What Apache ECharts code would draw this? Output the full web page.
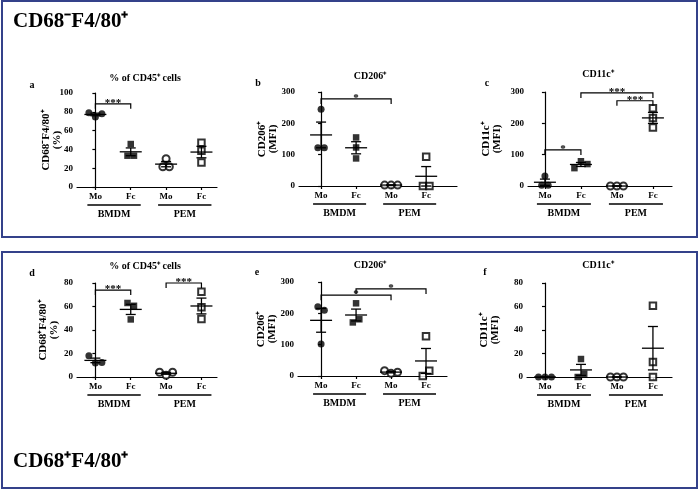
<!DOCTYPE html>
<html>
<head>
<meta charset="utf-8">
<script src="https://cdn.jsdelivr.net/npm/echarts@6/dist/echarts.min.js"></script>
<style>
  html, body { margin: 0; padding: 0; background: #fff; }
  #chart { width: 700px; height: 490px; }
</style>
</head>
<body>
<div id="chart"></div>
<script>
// x categories and group names
const groupLabels = ['Mo', 'Fc', 'Mo', 'Fc'];
const groupPos = [0, 1, 2, 3];
const cellTypes = ['BMDM', 'PEM'];

// a: CD68-F4/80+ % of CD45+ cells
const aMoBMDM = [79, 74.5, 78];
const aFcBMDM = [45.7, 33.3, 33.3];
const aMoPEM = [30, 21.5, 21.5];
const aFcPEM = [47, 38.5, 26];
// b: CD206+ MFI
const bMoBMDM = [245, 122, 122];
const bFcBMDM = [155, 123, 88];
const bMoPEM = [3, 3, 3];
const bFcPEM = [93, 0, 0];
// c: CD11c+ MFI
const cMoBMDM = [32, 2, 2];
const cFcBMDM = [57, 79, 70];
const cMoPEM = [0, 0, 0];
const cFcPEM = [248, 217, 187];
// d: CD68+F4/80+ % of CD45+ cells
const dMoBMDM = [18, 12, 12.4];
const dFcBMDM = [63, 49, 60.6];
const dMoPEM = [4, 1.5, 4];
const dFcPEM = [72.6, 59.3, 49.4];
// e: CD206+ MFI
const eMoBMDM = [221, 210, 102];
const eFcBMDM = [232, 171, 181];
const eMoPEM = [17, 8.5, 11.8];
const eFcPEM = [127, 0, 17];
// f: CD11c+ MFI
const fMoBMDM = [0, 0, 0];
const fFcBMDM = [0, 15.3, 2.8];
const fMoPEM = [0, 0, 0];
const fFcPEM = [60.7, 12.8, 0];

// significance brackets: [from group, to group, height, stars]
const sigA = [[0, 1, 88.5, '***']];
const sigB = [[0, 2, 278, '*']];
const sigC = [[0, 1, 115, '*'], [1, 3, 297, '***'], [2, 3, 272, '***']];
const sigD = [[0, 1, 74, '***'], [2, 3, 80, '***']];
const sigE = [[0, 2, 258, '*'], [1, 3, 278, '*']];
const sigF = [];

const FONT = "'Liberation Serif', 'Times New Roman', serif";
const BORDER = '#34418a';
const SYMBOLS = ['circle', 'rect', 'emptyCircle', 'emptyRect'];
const GRID_H = 94;
const STEP = 6.5;     // px sideways between overlapping dots
const OVERLAP = 7;    // px vertical distance that counts as overlap

const panels = [
  { letter: 'a', title: '% of CD45⁺ cells', yName: 'CD68⁻F4/80⁺\n(%)', nameGap: 14,
    left: 77, top: 93, width: 140, xMin: -0.52, xMax: 3.44, yMax: 100, yStep: 20,
    titleX: 145, titleY: 78, letterX: 32, letterY: 85,
    groups: [aMoBMDM, aFcBMDM, aMoPEM, aFcPEM], sig: sigA },
  { letter: 'b', title: 'CD206⁺', yName: 'CD206⁺\n(MFI)', nameGap: 20,
    left: 299, top: 92, width: 158, xMin: -0.63, xMax: 3.88, yMax: 300, yStep: 100,
    titleX: 370, titleY: 76, letterX: 258, letterY: 83,
    groups: [bMoBMDM, bFcBMDM, bMoPEM, bFcPEM], sig: sigB },
  { letter: 'c', title: 'CD11c⁺', yName: 'CD11c⁺\n(MFI)', nameGap: 25,
    left: 528, top: 92, width: 144, xMin: -0.47, xMax: 3.53, yMax: 300, yStep: 100,
    titleX: 598, titleY: 74, letterX: 487, letterY: 83,
    groups: [cMoBMDM, cFcBMDM, cMoPEM, cFcPEM], sig: sigC },
  { letter: 'd', title: '% of CD45⁺ cells', yName: 'CD68⁺F4/80⁺\n(%)', nameGap: 17,
    left: 77, top: 283, width: 140, xMin: -0.52, xMax: 3.44, yMax: 80, yStep: 20,
    titleX: 145, titleY: 266, letterX: 32, letterY: 273,
    groups: [dMoBMDM, dFcBMDM, dMoPEM, dFcPEM], sig: sigD },
  { letter: 'e', title: 'CD206⁺', yName: 'CD206⁺\n(MFI)', nameGap: 20,
    left: 298, top: 282, width: 149, xMin: -0.66, xMax: 3.6, yMax: 300, yStep: 100,
    titleX: 370, titleY: 265, letterX: 257, letterY: 272,
    groups: [eMoBMDM, eFcBMDM, eMoPEM, eFcPEM], sig: sigE },
  { letter: 'f', title: 'CD11c⁺', yName: 'CD11c⁺\n(MFI)', nameGap: 26,
    left: 527, top: 283, width: 145, xMin: -0.5, xMax: 3.53, yMax: 80, yStep: 20,
    titleX: 598, titleY: 265, letterX: 485, letterY: 272,
    groups: [fMoBMDM, fFcBMDM, fMoPEM, fFcPEM], sig: sigF }
];

// spread dots that overlap vertically, like the prism scatter layout
function spread(vals, pxPerY, pxPerX) {
  const parent = vals.map((_, i) => i);
  const find = i => parent[i] === i ? i : (parent[i] = find(parent[i]));
  for (let i = 0; i < vals.length; i++) {
    for (let j = i + 1; j < vals.length; j++) {
      if (Math.abs(vals[i] - vals[j]) * pxPerY < OVERLAP) parent[find(i)] = find(j);
    }
  }
  const clusters = {};
  vals.forEach((_, i) => (clusters[find(i)] = clusters[find(i)] || []).push(i));
  const off = vals.map(() => 0);
  Object.values(clusters).forEach(m => {
    m.forEach((idx, k) => { off[idx] = (k - (m.length - 1) / 2) * STEP / pxPerX; });
  });
  return off;
}

function meanSem(vals) {
  const n = vals.length;
  const m = vals.reduce((s, v) => s + v, 0) / n;
  const sd = Math.sqrt(vals.reduce((s, v) => s + (v - m) * (v - m), 0) / (n - 1));
  const sem = sd / Math.sqrt(n);
  return [m, m - sem, m + sem];
}

const lineStyle = { color: '#000', width: 1.2 };
const textStyle = { color: '#000', fontFamily: FONT, fontWeight: 'bold' };

function renderMean(params, api) {
  const c = api.coord([api.value(0), api.value(1)]);
  const lo = api.coord([api.value(0), api.value(2)]);
  const hi = api.coord([api.value(0), api.value(3)]);
  const st = { stroke: '#000', lineWidth: 1.3 };
  return {
    type: 'group',
    children: [
      { type: 'line', shape: { x1: c[0] - 11, y1: c[1], x2: c[0] + 11, y2: c[1] }, style: st },
      { type: 'line', shape: { x1: c[0], y1: lo[1], x2: c[0], y2: hi[1] }, style: st },
      { type: 'line', shape: { x1: c[0] - 5, y1: lo[1], x2: c[0] + 5, y2: lo[1] }, style: st },
      { type: 'line', shape: { x1: c[0] - 5, y1: hi[1], x2: c[0] + 5, y2: hi[1] }, style: st }
    ]
  };
}

function makeSigRenderer(sig) {
  return function (params, api) {
    const a = api.coord([api.value(0), api.value(2)]);
    const b = api.coord([api.value(1), api.value(2)]);
    return {
      type: 'group',
      children: [
        { type: 'polyline',
          shape: { points: [[a[0], a[1] + 5], [a[0], a[1]], [b[0], b[1]], [b[0], b[1] + 5]] },
          style: { stroke: '#000', lineWidth: 1.2, fill: null } },
        { type: 'text',
          style: { text: sig[params.dataIndex][3], x: (a[0] + b[0]) / 2, y: a[1] - 1,
                   align: 'center', verticalAlign: 'middle', fill: '#000',
                   fontFamily: FONT, fontWeight: 'bold', fontSize: 11 } }
      ]
    };
  };
}

function renderCellType(params, api) {
  const a = api.coord([api.value(0), 0]);
  const b = api.coord([api.value(1), 0]);
  const x1 = a[0] - 8, x2 = b[0] + 10;
  return {
    type: 'group',
    children: [
      { type: 'line', shape: { x1: x1, y1: a[1] + 18, x2: x2, y2: a[1] + 18 },
        style: { stroke: '#000', lineWidth: 1.3 } },
      { type: 'text',
        style: { text: cellTypes[params.dataIndex], x: (x1 + x2) / 2, y: a[1] + 27,
                 align: 'center', verticalAlign: 'middle', fill: '#000',
                 fontFamily: FONT, fontWeight: 'bold', fontSize: 10 } }
    ]
  };
}

const grid = [], xAxis = [], yAxis = [], series = [];
const graphic = [
  { type: 'rect', shape: { x: 2, y: 1, width: 695, height: 236 },
    style: { fill: null, stroke: BORDER, lineWidth: 2 } },
  { type: 'rect', shape: { x: 2, y: 252, width: 695, height: 236 },
    style: { fill: null, stroke: BORDER, lineWidth: 2 } },
  { type: 'text', x: 13, y: 22,
    style: { text: 'CD68⁻F4/80⁺', fill: '#000', font: 'bold 21px ' + FONT, verticalAlign: 'middle' } },
  { type: 'text', x: 13, y: 462,
    style: { text: 'CD68⁺F4/80⁺', fill: '#000', font: 'bold 21px ' + FONT, verticalAlign: 'middle' } }
];

panels.forEach((p, i) => {
  grid.push({ left: p.left, top: p.top, width: p.width, height: GRID_H });
  xAxis.push({
    type: 'value', gridIndex: i, min: p.xMin, max: p.xMax,
    splitLine: { show: false },
    axisLine: { show: true, onZero: false, lineStyle: lineStyle },
    axisTick: { show: true, customValues: groupPos, length: 3, lineStyle: lineStyle },
    axisLabel: Object.assign({ customValues: groupPos, margin: 5, fontSize: 9,
      formatter: v => groupLabels[Math.round(v)] }, textStyle)
  });
  yAxis.push({
    type: 'value', gridIndex: i, min: 0, max: p.yMax, interval: p.yStep,
    splitLine: { show: false },
    axisLine: { show: true, lineStyle: lineStyle },
    axisTick: { show: true, length: 3, lineStyle: lineStyle },
    axisLabel: Object.assign({ margin: 4, fontSize: 9 }, textStyle),
    name: p.yName, nameLocation: 'middle', nameRotate: 90, nameGap: p.nameGap,
    nameMoveOverlap: false,
    nameTextStyle: Object.assign({ fontSize: 11, lineHeight: 11 }, textStyle)
  });

  const pxPerY = GRID_H / p.yMax;
  const pxPerX = p.width / (p.xMax - p.xMin);
  const stats = [];
  p.groups.forEach((vals, k) => {
    const off = spread(vals, pxPerY, pxPerX);
    const empty = k >= 2;
    series.push({
      type: 'scatter', xAxisIndex: i, yAxisIndex: i, z: 3,
      symbol: SYMBOLS[k], symbolSize: k % 2 ? 6.5 : 7,
      itemStyle: empty ? { color: '#000', borderColor: '#000', borderWidth: 1.6 } : { color: '#000' },
      data: vals.map((v, j) => [groupPos[k] + off[j], v])
    });
    stats.push([groupPos[k]].concat(meanSem(vals)));
  });
  series.push({
    type: 'custom', xAxisIndex: i, yAxisIndex: i, z: 4,
    renderItem: renderMean, encode: { x: 0, y: [1, 2, 3] }, data: stats
  });
  series.push({
    type: 'custom', xAxisIndex: i, yAxisIndex: i, z: 4,
    renderItem: makeSigRenderer(p.sig), encode: { x: [0, 1], y: 2 },
    data: p.sig.map(s => [s[0], s[1], s[2]])
  });
  series.push({
    type: 'custom', xAxisIndex: i, yAxisIndex: i, z: 4,
    renderItem: renderCellType, encode: { x: [0, 1], y: 2 },
    data: [[groupPos[0], groupPos[1], 0], [groupPos[2], groupPos[3], 0]]
  });

  graphic.push({ type: 'text', x: p.titleX, y: p.titleY,
    style: { text: p.title, fill: '#000', font: 'bold 10px ' + FONT, align: 'center', verticalAlign: 'middle' } });
  graphic.push({ type: 'text', x: p.letterX, y: p.letterY,
    style: { text: p.letter, fill: '#000', font: 'bold 10px ' + FONT, align: 'center', verticalAlign: 'middle' } });
});

const chart = echarts.init(document.getElementById('chart'), null, { renderer: 'canvas' });
chart.setOption({
  backgroundColor: '#fff',
  animation: false,
  grid: grid,
  xAxis: xAxis,
  yAxis: yAxis,
  series: series,
  graphic: graphic
});
</script>
</body>
</html>
